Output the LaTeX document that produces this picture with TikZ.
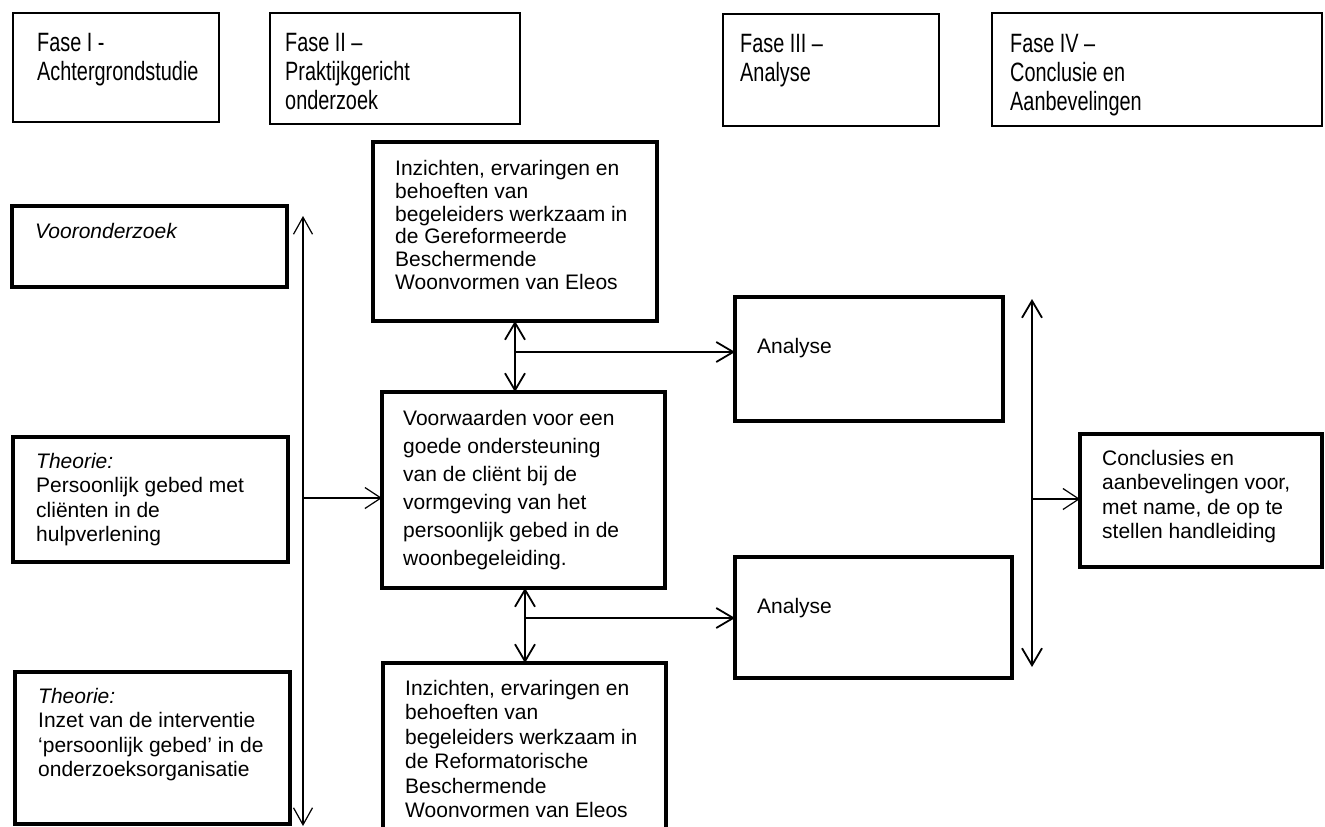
\documentclass[tikz,border=0pt]{standalone}
\usepackage{fontspec}
\setmainfont{Liberation Sans}
\usepackage{graphicx}
\usetikzlibrary{arrows.meta}
\newcommand\hdrline[1]{\scalebox{0.75}[1]{#1}}
\begin{document}
\begin{tikzpicture}[x=1pt,y=-1pt,
  hdrbox/.style={draw, line width=1.4pt, anchor=north west, inner sep=0pt, outer sep=0pt},
  cbox/.style={draw, line width=3.3pt, anchor=north west, inner sep=0pt, outer sep=0pt},
  hdrtxt/.style={anchor=north west, inner sep=0pt, align=left, font=\fontsize{26.5}{29}\selectfont},
  ctxt/.style={anchor=north west, inner sep=0pt, align=left, font=\fontsize{21}{24.3}\selectfont},
  arr/.style={line width=1.2pt, -{Straight Barb[length=16pt,width=21pt]}},
  marr/.style={line width=1.8pt, -{Straight Barb[length=17pt,width=20pt]}},
  darr/.style={line width=1.8pt, {Straight Barb[length=17pt,width=20pt]}-{Straight Barb[length=17pt,width=20pt]}},
  tdarr/.style={line width=1.2pt, {Straight Barb[length=17pt,width=19pt]}-{Straight Barb[length=17pt,width=19pt]}},
]
\useasboundingbox (0,0) rectangle (1325,827);
\fill[white] (0,0) rectangle (1325,827);

% header boxes
\node[hdrbox, minimum width=206pt, minimum height=109pt] (h1) at (13,13) {};
\node[hdrbox, minimum width=250pt, minimum height=111pt] (h2) at (270,13) {};
\node[hdrbox, minimum width=216pt, minimum height=112pt] (h3) at (723,14) {};
\node[hdrbox, minimum width=330pt, minimum height=113pt] (h4) at (992,13) {};
\node[hdrtxt] (h1t) at (37,33) {\hdrline{Fase I -}\\\hdrline{Achtergrondstudie}};
\node[hdrtxt] (h2t) at (285,33) {\hdrline{Fase II –}\\\hdrline{Praktijkgericht}\\\hdrline{onderzoek}};
\node[hdrtxt] (h3t) at (740,34) {\hdrline{Fase III –}\\\hdrline{Analyse}};
\node[hdrtxt] (h4t) at (1010,34) {\hdrline{Fase IV –}\\\hdrline{Conclusie en}\\\hdrline{Aanbevelingen}};

% content boxes
\node[cbox, minimum width=275pt, minimum height=81pt] (vo) at (12,206) {};
\node[cbox, minimum width=275pt, minimum height=125pt] (th1) at (13,437) {};
\node[cbox, minimum width=275pt, minimum height=152pt] (th2) at (15,672) {};
\node[cbox, minimum width=284pt, minimum height=179pt] (ig) at (373,142) {};
\node[cbox, minimum width=283pt, minimum height=196pt] (vw) at (382,392) {};
\node[cbox, minimum width=283pt, minimum height=185pt] (ir) at (383,663) {};
\node[cbox, minimum width=268pt, minimum height=124pt] (an1) at (735,297) {};
\node[cbox, minimum width=277pt, minimum height=121pt] (an2) at (735,557) {};
\node[cbox, minimum width=242pt, minimum height=133pt] (cc) at (1080,434) {};

% texts
\node[ctxt] (vot) at (35,223) {\textit{Vooronderzoek}};
\node[ctxt] (th1t) at (36,453) {\textit{Theorie:}\\Persoonlijk gebed met\\cliënten in de\\hulpverlening};
\node[ctxt] (th2t) at (38,688) {\textit{Theorie:}\\Inzet van de interventie\\‘persoonlijk gebed’ in de\\onderzoeksorganisatie};
\node[ctxt, font=\fontsize{21}{22.8}\selectfont] (igt) at (395,160) {Inzichten, ervaringen en\\behoeften van\\begeleiders werkzaam in\\de Gereformeerde\\Beschermende\\Woonvormen van Eleos};
\node[ctxt, font=\fontsize{21}{28}\selectfont] (vwt) at (403,410) {Voorwaarden voor een\\goede ondersteuning\\van de cliënt bij de\\vormgeving van het\\persoonlijk gebed in de\\woonbegeleiding.};
\node[ctxt, font=\fontsize{21}{24.4}\selectfont] (irt) at (405,680) {Inzichten, ervaringen en\\behoeften van\\begeleiders werkzaam in\\de Reformatorische\\Beschermende\\Woonvormen van Eleos};
\node[ctxt] (an1t) at (757,338) {Analyse};
\node[ctxt] (an2t) at (757,598) {Analyse};
\node[ctxt] (cct) at (1102,450) {Conclusies en\\aanbevelingen voor,\\met name, de op te\\stellen handleiding};

% connectors
\coordinate (ltop) at (303,216);
\coordinate (lbot) at (303,826);
\coordinate (lj) at (303,498);
\draw[tdarr] (ltop) -- (lbot);
\draw[arr] (lj) -- (lj -| vw.west);

\draw[darr] (ig.south) -- (ig.south |- vw.north);
\coordinate (m1) at (515,352);
\draw[marr] (m1) -- (m1 -| an1.west);

\coordinate (vwb) at (525,588);
\draw[darr] (vwb) -- (vwb |- ir.north);
\coordinate (m2) at (525,618);
\draw[marr] (m2) -- (m2 -| an2.west);

\coordinate (rtop) at (1032,299);
\coordinate (rbot) at (1032,667);
\coordinate (rj) at (1032,499);
\draw[darr] (rtop) -- (rbot);
\draw[arr] (rj) -- (rj -| cc.west);
\end{tikzpicture}
\end{document}
